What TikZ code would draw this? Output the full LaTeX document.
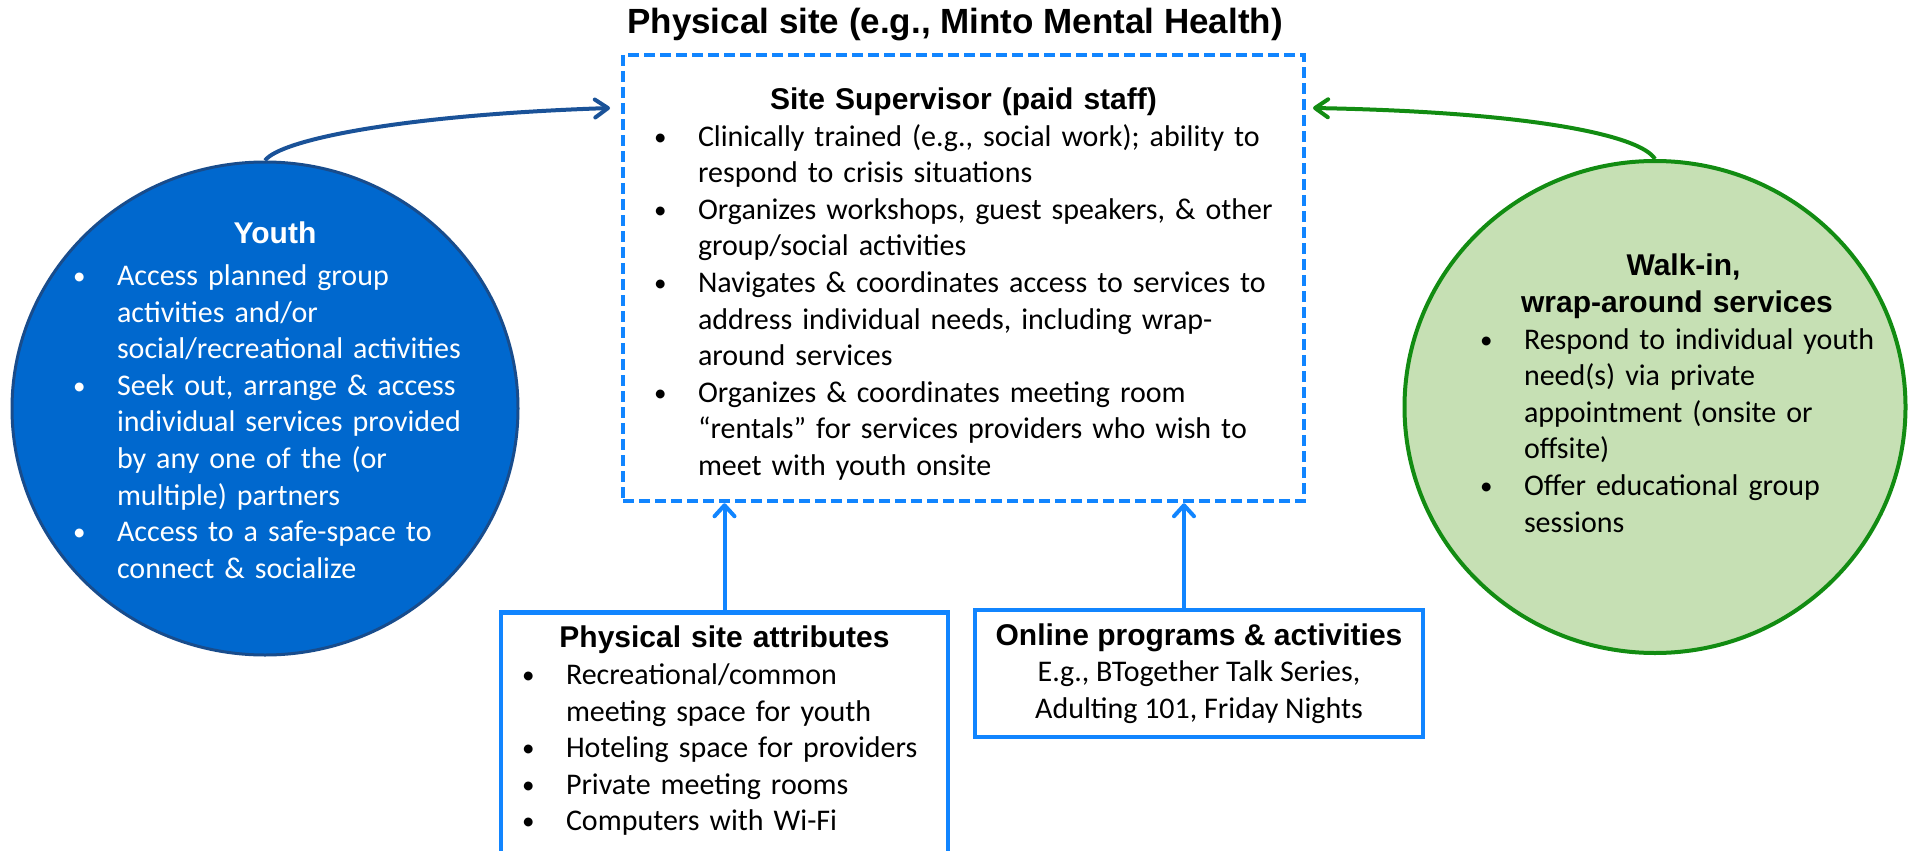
\documentclass[tikz,border=0pt]{standalone}
\usepackage{fontspec}
\setmainfont{Carlito}
\newfontfamily\headfont{Liberation Sans}
\usepackage{tikz}
\usetikzlibrary{arrows.meta,shapes.geometric,calc}
\usepackage{xcolor}

\definecolor{siteblue}{RGB}{17,133,255}
\definecolor{youthfill}{RGB}{0,104,206}
\definecolor{youthedge}{RGB}{24,76,140}
\definecolor{youthline}{RGB}{26,82,152}
\definecolor{walkfill}{RGB}{198,224,180}
\definecolor{walkedge}{RGB}{18,140,18}

\newlength{\bulskip}
\newcommand{\bul}[1]{\par\leftskip=\bulskip\rightskip=0pt plus 1fil
  \hangindent=44pt\hangafter=1\noindent
  \makebox[44pt][l]{\raisebox{1pt}{\fontsize{25}{25}\selectfont\textbullet}}#1\par}
\newcommand{\heading}[1]{{\centering\headfont\bfseries #1\par}}
\newcommand{\bodysize}{\fontsize{30}{36.6}\selectfont}

\begin{document}
\begin{tikzpicture}[x=1pt,y=-1pt,
    bodytext/.style={font=\bodysize, align=left, inner sep=0pt},
    sitebox/.style={draw=siteblue, line width=4.5pt},
    feed/.style={siteblue, line width=4pt, -{Straight Barb[length=11pt,width=20pt,round]}},
    curvearrow/.style={line width=4pt, -{Straight Barb[length=13pt,width=18pt,round]}}]
  \useasboundingbox (0,0) rectangle (1915,851);
  \clip (0,0) rectangle (1915,851);

  \node[font=\headfont\bfseries\fontsize{35}{40}\selectfont] (title) at (955,25)
    {Physical site (e.g., Minto Mental Health)};

  \node[sitebox, dash pattern=on 11pt off 5pt, fill=white, minimum width=681pt,
    minimum height=446pt] (site) at (963.5,278) {};
  \node[bodytext, text width=660pt, anchor=north] (sitetext) at (963.5,87.5) {%
    \setlength{\bulskip}{20.5pt}%
    \heading{Site Supervisor (paid staff)}
    \bul{Clinically trained (e.g., social work); ability to\newline respond to crisis situations}
    \bul{Organizes workshops, guest speakers, \& other\newline group/social activities}
    \bul{Navigates \& coordinates access to services to\newline address individual needs, including wrap-\newline around services}
    \bul{Organizes \& coordinates meeting room\newline “rentals” for services providers who wish to\newline meet with youth onsite}};

  \node[ellipse, draw=youthedge, fill=youthfill, line width=3pt, inner sep=0pt,
    minimum width=506pt, minimum height=493pt] (youth) at (265,408.5) {};
  \node[bodytext, text=white, text width=404pt, anchor=north] (youthtext) at (275,222) {%
    \setlength{\bulskip}{0pt}%
    \heading{Youth}\vspace{5pt}
    \bul{Access planned group\newline activities and/or\newline social/recreational activities}
    \bul{Seek out, arrange \& access\newline individual services provided\newline by any one of the (or\newline multiple) partners}
    \bul{Access to a safe-space to\newline connect \& socialize}};

  \node[ellipse, draw=walkedge, fill=walkfill, line width=4pt, inner sep=0pt,
    minimum width=501pt, minimum height=492pt] (walkin) at (1655,407) {};
  \node[bodytext, text width=420pt, anchor=north] (walktext) at (1690,254) {%
    \setlength{\bulskip}{0pt}%
    \heading{Walk-in,\hspace*{13pt}}
    \heading{wrap-around services\hspace*{26pt}}
    \bul{Respond to individual youth\newline need(s) via private\newline appointment (onsite or\newline offsite)}
    \bul{Offer educational group\newline sessions}};

  \node[sitebox, fill=white, bodytext, text width=405pt, inner xsep=21pt, inner ysep=14pt,
    anchor=north] (attr) at (724.5,610) {%
    \setlength{\bulskip}{0pt}%
    \heading{Physical site attributes}
    \bul{Recreational/common\newline meeting space for youth}
    \bul{Hoteling space for providers}
    \bul{Private meeting rooms}
    \bul{Computers with Wi-Fi}
    \noindent\rule{0pt}{60pt}};

  \node[sitebox, fill=white, font=\bodysize, align=center, minimum width=448pt,
    minimum height=127pt] (online) at (1199,673.5)
    {{\headfont\bfseries Online programs \& activities}\\E.g., BTogether Talk Series,\\Adulting 101, Friday Nights};

  \coordinate (inL) at (610,108);
  \coordinate (inR) at (1313,108);

  \draw[curvearrow, youthline] (youth.north) .. controls (280,140) and (400,115) .. (inL);
  \draw[curvearrow, walkedge] (walkin.north) .. controls (1640,135) and (1530,112) .. (inR);

  \draw[feed] (attr.north) -- (attr.north |- site.south);
  \draw[feed] ($(online.north)+(-15,0)$) -- ($(online.north |- site.south)+(-15,0)$);
\end{tikzpicture}
\end{document}
